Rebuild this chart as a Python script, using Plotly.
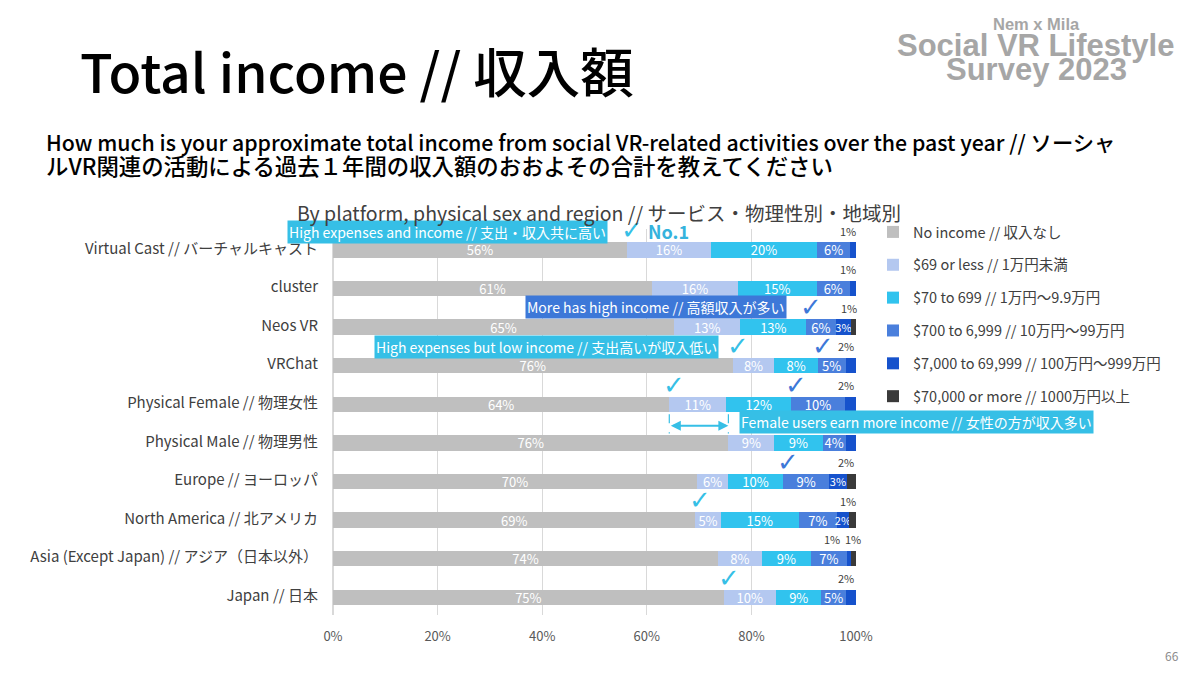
import plotly.graph_objects as go

# ---- data (percent of respondents) ----
CATEGORIES = ["Virtual Cast // バーチャルキャスト", "cluster", "Neos VR", "VRChat",
              "Physical Female // 物理女性", "Physical Male // 物理男性",
              "Europe // ヨーロッパ", "North America // 北アメリカ",
              "Asia (Except Japan) // アジア（日本以外）", "Japan // 日本"]
SERIES_NAMES = ["No income // 収入なし", "$69 or less // 1万円未満",
                "$70 to 699 // 1万円～9.9万円", "$700 to 6,999 // 10万円～99万円",
                "$7,000 to 69,999 // 100万円～999万円", "$70,000 or more // 1000万円以上"]
no_income   = [56.2, 61.0, 65.2, 76.4, 64.3, 75.6, 69.6, 69.3, 73.6, 74.7]
under_69    = [16.1, 16.4, 12.7, 8.0, 10.9, 8.8, 6.0, 4.8, 8.4, 10.0]
r70_699     = [20.2, 15.1, 12.6, 8.3, 12.4, 9.2, 10.4, 15.0, 9.4, 8.7]
r700_6999   = [6.4, 6.3, 5.6, 5.3, 10.3, 4.4, 8.9, 7.2, 6.8, 4.6]
r7000_69999 = [1.1, 1.2, 3.0, 2.0, 2.1, 2.0, 3.3, 2.4, 0.9, 2.0]
over_70000  = [0, 0, 0.9, 0, 0, 0, 1.8, 1.3, 0.9, 0]
X_TICKS = [0, 20, 40, 60, 80, 100]

# check marks: (row, series whose start is highlighted)
CHECKS = [(0, 1), (2, 3), (3, 1), (3, 3), (4, 1), (4, 3), (6, 3), (7, 1), (9, 1)]
# rows whose small-value label sits under the "Female users" call-out (hidden in the slide)
COVERED_ROWS = [5]

COLORS = ["#bfbfbf", "#b4c8f0", "#31c3ee", "#4a7fdc", "#1652cc", "#3a3a3a"]
CYAN, BLUE = "#36bfe6", "#3d78d8"
FONT = "Noto Sans CJK JP"
SMALL = 2.2   # segments below this get their label above the bar

series = [no_income, under_69, r70_699, r700_6999, r7000_69999, over_70000]
ypos = list(range(len(CATEGORIES)))

fig = go.Figure()
for k, (name, vals) in enumerate(zip(SERIES_NAMES, series)):
    txt = []
    for v in vals:
        if v == 0 or (k >= 4 and v < SMALL):
            txt.append("")
        else:
            txt.append(f"{round(v)}%")
    fig.add_trace(go.Bar(
        y=[p + 0.04 for p in ypos], x=vals, orientation="h", name=name,
        marker=dict(color=COLORS[k], line=dict(width=0)), width=0.4,
        text=txt, textposition="inside", insidetextanchor="middle", textangle=0,
        constraintext="none",
        insidetextfont=dict(color="white", size=13 if k < 4 else 11, family=FONT),
        legendgroup=f"g{k}", hoverinfo="skip"))

ann = []
# small-segment labels above the bar
for i in ypos:
    if i in COVERED_ROWS:
        continue
    starts = []
    cum = 0
    for vals in series:
        starts.append(cum)
        cum += vals[i]
    smalls = [k for k in (4, 5) if 0 < series[k][i] < SMALL]
    for j, k in enumerate(smalls):
        xs = -5 if len(smalls) == 1 else (-17 if j == 0 else -1)
        ann.append(dict(x=starts[k] + series[k][i] / 2, y=i - 0.46, xref="x", yref="y",
                        text=f"{round(series[k][i])}%", showarrow=False, xshift=xs,
                        font=dict(size=11, color="#404040", family=FONT)))

# check marks
for i, k in CHECKS:
    start = sum(series[s][i] for s in range(k))
    ann.append(dict(x=start, y=i - 0.47, xref="x", yref="y", text="✓", showarrow=False,
                    xshift=5, font=dict(size=26, color=CYAN if k == 1 else BLUE,
                                        family="DejaVu Sans")))
ann.append(dict(x=no_income[0], y=-0.45, xref="x", yref="y",
                text="<b>No.1</b>", showarrow=False, xanchor="left", xshift=19,
                font=dict(size=18, color="#35b3dd", family=FONT)))

# call-out boxes
def callout(x, y, text, color, xanchor="center"):
    return dict(x=x, y=y, xref="x", yref="y", text=text, showarrow=False, xanchor=xanchor,
                bgcolor=color, borderpad=1, font=dict(size=14, color="white", family=FONT))

# arrow between female and male no-income
fx, mx = no_income[4], no_income[5]
ann.append(dict(x=mx, y=4.6, ax=fx, ay=4.6, xref="x", yref="y", axref="x", ayref="y",
                text="", showarrow=True, arrowside="end+start", arrowhead=2,
                arrowsize=1, arrowwidth=2, arrowcolor=CYAN))
for xv in (fx, mx):
    fig.add_shape(type="line", x0=xv, x1=xv, y0=4.3, y1=4.8, xref="x", yref="y",
                  line=dict(color=CYAN, width=1.2, dash="dash"))

ann.append(callout(21.9, -0.43, "High expenses and income // 支出・収入共に高い", CYAN))
ann.append(callout(61.7, 1.52, "More has high income // 高額収入が多い", BLUE))
ann.append(callout(40.9, 2.56, "High expenses but low income // 支出高いが収入低い", CYAN))
ann.append(callout(77.6, 4.5, "Female users earn more income // 女性の方が収入多い", CYAN,
                   xanchor="left"))

# page texts (positions in screen pixels, converted below)
page = [
    dict(x=78, y=70, text="Total income // 収入額", xanchor="left",
         font=dict(size=53.5, color="black", family=FONT, weight=500)),
    dict(x=44, y=141, xanchor="left",
         text="How much is your approximate total income from social VR-related activities over the past year // ソーシャ",
         font=dict(size=21.3, color="black", family=FONT, weight=500)),
    dict(x=44, y=165, xanchor="left",
         text="ルVR関連の活動による過去１年間の収入額のおおよその合計を教えてください",
         font=dict(size=22.4, color="black", family=FONT, weight=500)),
    dict(x=599, y=212, text="By platform, physical sex and region // サービス・物理性別・地域別",
         font=dict(size=19.5, color="#404040", family=FONT)),
    dict(x=1036, y=24, text="<b>Nem x Mila</b>",
         font=dict(size=16.5, color="#a6a6a6", family="Liberation Sans")),
    dict(x=1035, y=45, text="<b>Social VR Lifestyle</b>",
         font=dict(size=31, color="#a6a6a6", family="Liberation Sans")),
    dict(x=1036, y=69, text="<b>Survey 2023</b>",
         font=dict(size=31, color="#a6a6a6", family="Liberation Sans")),
    dict(x=1172, y=655, text="66", font=dict(size=12, color="#8c8c8c", family=FONT)),
]

# page body has an 8px margin: work in screen pixels, subtract it
OFF = 8
W, H = 1200 - OFF, 675 - OFF
L, T = 333 - OFF, 229 - OFF
R, B = W - (856 - OFF), H - (615 - OFF)
pw, ph = W - L - R, H - T - B
for a in page:
    a.setdefault("xanchor", "center")
    a.update(xref="paper", yref="paper", showarrow=False, yanchor="middle",
             x=(a["x"] - OFF - L) / pw, y=1 - (a["y"] - OFF - T) / ph)
    ann.append(a)

fig.update_layout(
    width=W, height=H, barmode="stack", plot_bgcolor="white", paper_bgcolor="white",
    margin=dict(l=L, r=R, t=T, b=B), bargap=0.6,
    font=dict(family=FONT, color="#404040"),
    annotations=ann,
    legend=dict(x=(873 - OFF - L) / pw, y=1 - (216 - OFF - T) / ph, xanchor="left", yanchor="top",
                traceorder="grouped", tracegroupgap=11,
                font=dict(size=14.5, color="#404040", family=FONT), bgcolor="rgba(0,0,0,0)"),
    xaxis=dict(range=[0, 100], tickvals=X_TICKS, ticktext=[f"{v}%" for v in X_TICKS],
               showgrid=True, gridcolor="#d9d9d9", zeroline=True, zerolinecolor="#d9d9d9",
               tickfont=dict(size=13, color="#595959"), ticklabelstandoff=12),
    yaxis=dict(range=[len(CATEGORIES) - 0.5, -0.5], tickvals=ypos, ticktext=CATEGORIES,
               showgrid=False, zeroline=False, ticklabelstandoff=14,
               tickfont=dict(size=15, color="#404040")),
)

fig.write_html("out.html")
